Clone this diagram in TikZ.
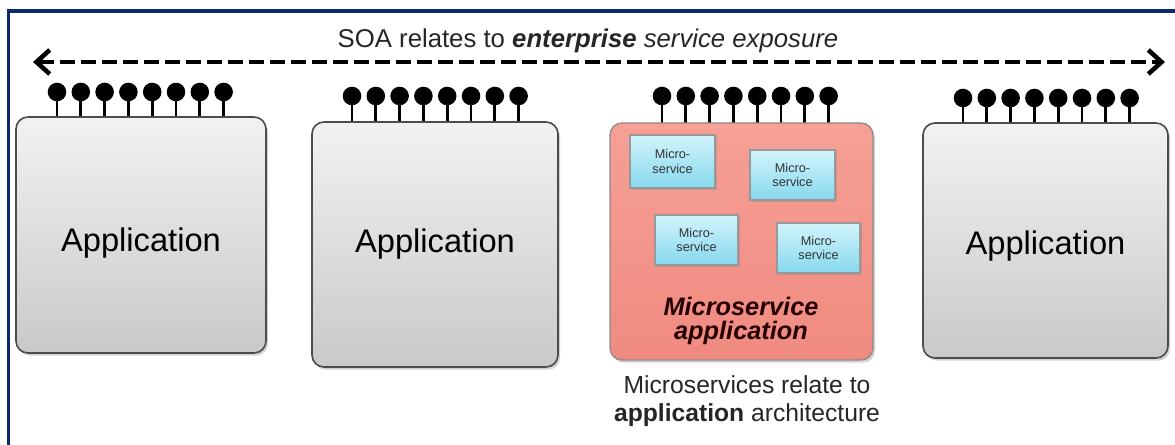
\documentclass[tikz,border=0pt]{standalone}
\usepackage{fontspec}
\setmainfont{Liberation Sans}
\usetikzlibrary{arrows.meta,shadows}
\definecolor{framecol}{HTML}{0B2A6B}
\definecolor{apptop}{HTML}{F2F2F2}
\definecolor{appbot}{HTML}{C9C9C9}
\definecolor{redtop}{HTML}{F6A096}
\definecolor{redbot}{HTML}{F08A80}
\definecolor{mstop}{HTML}{D2F4FC}
\definecolor{msbot}{HTML}{86D8EE}
\tikzset{
  appbox/.style={draw=black!70, line width=1.2pt, rounded corners=9pt,
    top color=apptop, bottom color=appbot,
    drop shadow={shadow xshift=1.5pt, shadow yshift=-2pt, opacity=0.35},
    font=\fontsize{24.5}{28}\selectfont, inner sep=0pt},
  redbox/.style={draw=black!45, line width=1pt, rounded corners=9pt,
    top color=redtop, bottom color=redbot,
    drop shadow={shadow xshift=1.5pt, shadow yshift=-2pt, opacity=0.35}, inner sep=0pt},
  msbox/.style={draw=black!40, line width=0.8pt,
    top color=mstop, bottom color=msbot,
    drop shadow={shadow xshift=1.2pt, shadow yshift=-1.5pt, opacity=0.35},
    font=\fontsize{9.5}{11}\selectfont, text=black!80, align=center, inner sep=0pt},
  stem/.style={line width=2pt, black},
  knob/.style={fill=black},
  soa/.style={line width=3.2pt, dash pattern=on 11.25pt off 4.5pt,
    {Straight Barb[length=10pt,width=18pt,line width=3.4pt]}-{Straight Barb[length=10pt,width=18pt,line width=3.4pt]}},
  caption/.style={font=\fontsize{19.3}{22}\selectfont, text=black!85, align=center, inner sep=0pt},
}
\begin{document}
\begin{tikzpicture}[x=0.75pt,y=-0.75pt]
\useasboundingbox (0,0) rectangle (1175,445);
\fill[white] (0,0) rectangle (1175,445);
% frame
\draw[framecol, line width=2.4pt] (8.5,445) -- (8.5,11) -- (1175,11);

% lollipops (drawn before boxes)
\newcommand{\lolli}[3]{%
  \foreach \k in {0,...,7} {
    \draw[stem] ({#1+\k*23.8},{#2}) -- ({#1+\k*23.8},{#3});
    \fill[knob] ({#1+\k*23.8},{#2}) circle[radius=9.3];
  }}
\lolli{57}{92}{118}
\lolli{352}{96}{123}
\lolli{662}{96}{124}
\lolli{963}{98}{124}

% boxes
\node[appbox, minimum width=187.5pt, minimum height=177pt] (a1) at (141,235) {\raisebox{-6pt}[\height][\depth]{Application}};
\node[appbox, minimum width=184.5pt, minimum height=183.75pt] (a2) at (435,244.5) {Application};
\node[redbox, minimum width=197.25pt, minimum height=177.75pt] (ms) at (741.5,241.5) {};
\node[appbox, minimum width=183.75pt, minimum height=176.25pt] (a4) at (1045.5,240.5) {\raisebox{-4pt}[\height][\depth]{Application}};

% microservices
\node[msbox, minimum width=63.75pt, minimum height=39.75pt] (m1) at (672.5,161.5) {Micro-\\service};
\node[msbox, minimum width=63.75pt, minimum height=37.5pt] (m2) at (792.5,175) {Micro-\\service};
\node[msbox, minimum width=62.25pt, minimum height=37.5pt] (m3) at (696.5,240) {Micro-\\service};
\node[msbox, minimum width=62.25pt, minimum height=37.5pt] (m4) at (818.5,248) {Micro-\\service};

\node[font=\fontsize{19}{17.5}\selectfont\bfseries\itshape, text=black!85!red, align=center, inner sep=0pt] (mslabel) at (741,321) {Microservice\\application};

% captions
\node[caption, font=\fontsize{18.5}{20.5}\selectfont] (bottom) at (747,401) {Microservices relate to\\\textbf{application} architecture};
\node[caption] (top) at (588,41) {SOA relates to \textbf{\textit{enterprise}} \textit{service exposure}};

% arrow
\coordinate (al) at (33,62);
\coordinate (ar) at (1165,62);
\draw[soa] (al) -- (ar);
\end{tikzpicture}
\end{document}
